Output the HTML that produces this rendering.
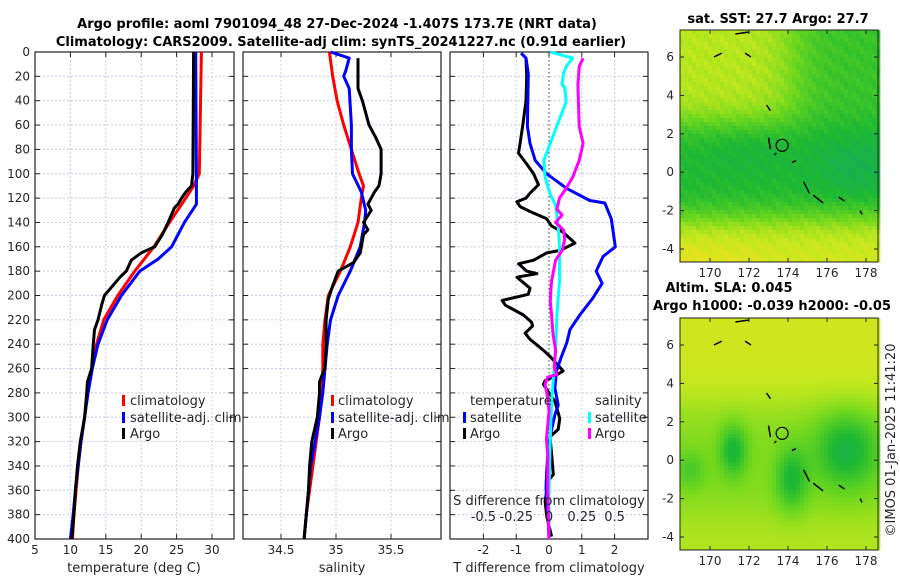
<!DOCTYPE html>
<html><head><meta charset="utf-8"><style>
body{margin:0;background:#fff;}
svg{display:block;font-family:"DejaVu Sans","Liberation Sans",sans-serif;}
.t{font-weight:bold;font-size:13px;fill:#000;}
.tk{font-size:12px;fill:#262626;}
.lb{font-size:13px;fill:#262626;}
</style></head><body>
<svg id="fig" width="900" height="580" viewBox="0 0 900 580">
<text class="t" x="337" y="28" text-anchor="middle">Argo profile: aoml 7901094_48 27-Dec-2024 -1.407S 173.7E (NRT data)</text>
<text class="t" x="341" y="46" text-anchor="middle">Climatology: CARS2009. Satellite-adj clim: synTS_20241227.nc (0.91d earlier)</text>
<text class="t" x="778" y="23" text-anchor="middle">sat. SST: 27.7 Argo: 27.7</text>
<text class="t" x="729" y="292" text-anchor="middle">Altim. SLA: 0.045</text>
<text class="t" x="772" y="310" text-anchor="middle">Argo h1000: -0.039 h2000: -0.05</text>
<text class="lb" transform="translate(895,440) rotate(-90)" text-anchor="middle">©IMOS 01-Jan-2025 11:41:20</text>
</svg>
<script>
// ---- data (depth in m) ----
const depthTicks=[0,20,40,60,80,100,120,140,160,180,200,220,240,260,280,300,320,340,360,380,400];
const tempTicks=[5,10,15,20,25,30];
const salTicks=[34.5,35,35.5];
const tdiffTicks=[-2,-1,0,1,2];
const sdiffTicks=[-0.5,-0.25,0,0.25,0.5];
const sdiffLabels=["-0.5","-0.25","0","0.25","0.5"];
const lonTicks=[170,172,174,176,178];
const latTicks=[6,4,2,0,-2,-4];

const tClimD=[0,100,110,120,140,160,180,200,220,240,260,280,300,320,340,360,380,400];
const tClimV=[28.5,28.2,27.4,26.3,24.0,21.8,19.1,16.7,14.7,13.7,13.0,12.4,12.0,11.5,11.1,10.8,10.5,10.3];
const tSatD=[0,100,125,140,160,170,180,200,220,240,260,280,300,320,340,360,380,400];
const tSatV=[27.7,27.8,27.8,26.1,24.3,22.4,19.8,17.2,15.2,13.9,13.1,12.5,12.0,11.5,11.1,10.7,10.4,10.0];
const tArgoD=[0,100,110,115,120,125,128,140,150,160,165,171,180,185,200,208,220,228,242,260,271,280,300,320,340,360,380,400];
const tArgoV=[27.4,27.3,27.1,26.3,25.7,25.2,24.7,23.8,23.0,21.9,20.0,18.6,17.9,17.0,14.8,14.4,13.9,13.4,13.2,13.0,12.4,12.3,12.0,11.4,11.0,10.7,10.5,10.2];

const sClimD=[0,20,40,60,80,100,110,120,140,160,180,200,220,240,260,280,300,320,340,360,380,400];
const sClimV=[34.94,34.97,35.01,35.07,35.14,35.21,35.25,35.23,35.2,35.13,35.04,34.93,34.9,34.88,34.88,34.87,34.85,34.82,34.79,34.76,34.73,34.71];
const sSatD=[0,5,15,20,30,60,80,100,115,130,140,160,180,200,220,240,260,280,300,320,340,360,380,400];
const sSatV=[34.95,35.12,35.09,35.07,35.12,35.14,35.14,35.15,35.23,35.27,35.26,35.22,35.13,35.02,34.95,34.92,34.9,34.88,34.85,34.81,34.77,34.75,34.73,34.71];
const sArgoD=[5,30,40,60,70,80,100,110,115,125,130,140,146,150,165,173,180,192,203,220,240,260,266,271,280,300,320,340,360,380,400];
const sArgoV=[35.2,35.2,35.24,35.3,35.36,35.41,35.41,35.39,35.35,35.29,35.32,35.25,35.29,35.25,35.22,35.16,35.02,34.97,34.93,34.91,34.91,34.9,34.87,34.85,34.85,34.83,34.78,34.76,34.75,34.73,34.71];

const dTSatD=[1,5,18,61,75,89,100,112,122,124,137,160,168,180,190,202,216,228,239,250,262,276,290,298,310,324,344,358,386,400];
const dTSatV=[-0.85,-0.7,-0.63,-0.66,-0.58,-0.42,-0.07,0.54,1.24,1.7,1.9,2.02,1.65,1.44,1.62,1.34,0.94,0.64,0.54,0.38,0.23,0.18,0.28,0.18,0.08,-0.02,-0.07,-0.09,-0.02,0];
const dTArgoD=[5,20,40,60,75,83,92,100,109,116,120,123,127,131,137,143,148,157,163,165,171,174,180,182,185,194,199,204,208,216,222,225,231,236,245,250,259,262,266,270,273,279,287,301,310,316,330,347,352,369,381,398];
const dTArgoV=[-0.7,-0.68,-0.7,-0.8,-0.88,-0.93,-0.68,-0.47,-0.32,-0.58,-0.7,-0.98,-0.88,-0.58,-0.07,0.08,0.43,0.79,0.33,-0.07,-0.47,-0.93,-0.68,-0.37,-0.98,-0.58,-0.63,-1.43,-1.33,-0.78,-0.53,-0.5,-0.73,-0.58,-0.17,0.03,0.33,0.43,0.18,-0.12,-0.17,-0.02,0.18,0.33,0.28,0.03,0.08,0.13,-0.02,-0.12,-0.07,0.08];
const dSSatD=[0,5,12,18,27,29,41,58,75,89,103,117,126,143,160,188,216,245,273,287,316,360,400];
const dSSatV=[0.01,0.18,0.13,0.11,0.1,0.12,0.13,0.07,0.01,-0.04,-0.03,0.01,0.05,0.07,0.08,0.08,0.06,0.05,0.03,0.02,0.01,0.0,0.0];
const dSArgoD=[5,12,27,61,75,89,103,112,120,129,134,140,146,154,163,171,177,188,194,205,216,231,245,259,265,267,273,284,295,307,318,330,360,400];
const dSArgoV=[0.26,0.23,0.22,0.23,0.26,0.23,0.18,0.13,0.08,0.06,0.1,0.05,0.11,0.12,0.1,0.05,0.04,0.02,0.015,0.01,0.02,0.03,0.05,0.04,0.06,-0.01,-0.03,-0.01,0.0,-0.01,-0.02,-0.01,-0.01,0.0];

// ---- scales ----
const Y0=52, Y1=539;
const yD=d=>Y0+d*(Y1-Y0)/400;
const xT=v=>35+(v-5)*7.08;
const xS=v=>281+(v-34.5)*110;
const xDT=v=>549+v*32.8;
const xDS=v=>xDT(v*4);
const NS='http://www.w3.org/2000/svg';
const svg=document.getElementById('fig');
function mk(tag,attrs,parent){const e=document.createElementNS(NS,tag);for(const k in attrs)e.setAttribute(k,attrs[k]);(parent||svg).appendChild(e);return e;}

function panel(x0,x1,xs,ticks,labels,name,showY){
  const g=mk('g',{});
  
  
  depthTicks.forEach(d=>{const l=mk('line',{x1:x0,x2:x1,y1:yD(d),y2:yD(d),stroke:'#c4cce8','stroke-width':1,'stroke-dasharray':'2,2'},g);
    
    
    mk('line',{x1:x0,x2:x0+5,y1:yD(d),y2:yD(d),stroke:'#222'},g);mk('line',{x1:x1-5,x2:x1,y1:yD(d),y2:yD(d),stroke:'#222'},g);
    if(showY){const t=mk('text',{x:x0-5,y:yD(d)+4,'text-anchor':'end',class:'tk'},g);t.textContent=d;
      
      }
  });
  ticks.forEach((v,i)=>{const x=xs(v);const l=mk('line',{x1:x,x2:x,y1:Y0,y2:Y1,stroke:'#c4cce8','stroke-dasharray':'2,2'},g);
    
    
    if(x>x0+1&&x<x1-1){mk('line',{x1:x,x2:x,y1:Y1-5,y2:Y1,stroke:'#222'},g);mk('line',{x1:x,x2:x,y1:Y0,y2:Y0+5,stroke:'#222'},g);}
    const t=mk('text',{x:x,y:Y1+15,'text-anchor':'middle',class:'tk'},g);t.textContent=labels[i];
    
    
  });
  const r=mk('rect',{x:x0,y:Y0,width:x1-x0,height:Y1-Y0,fill:'none',stroke:'#222','stroke-width':1.2},g);
  
  
  return g;
}
function line(ds,vs,xs,col,name,sw){
  const p=mk('polyline',{points:ds.map((d,i)=>xs(vs[i]).toFixed(1)+','+yD(d).toFixed(1)).join(' '),fill:'none',stroke:col,'stroke-width':sw||3,'stroke-linejoin':'round'});
  
  
}
function txt(x,y,s,name,cls,anchor){const t=mk('text',{x:x,y:y,class:cls||'lb','text-anchor':anchor||'start'});t.textContent=s;
  
  return t;}
function legBar(x,y,col,name){const r=mk('rect',{x:x,y:y-10,width:3,height:11,fill:col});
  
  }

panel(35,234,xT,tempTicks,tempTicks,'temperature-panel',true);
panel(243,441,xS,salTicks,salTicks,'salinity-panel',false);
panel(450,648,xDT,tdiffTicks,tdiffTicks,'difference-panel',false);
const zl=mk('line',{x1:549,x2:549,y1:Y0,y2:Y1,stroke:'#444','stroke-dasharray':'1.5,2.5'});



line(tClimD,tClimV,xT,'#ff0000','temp-climatology-line');
line(tSatD,tSatV,xT,'#0000ff','temp-satellite-line');
line(tArgoD,tArgoV,xT,'#000','temp-argo-line');
line(sClimD,sClimV,xS,'#ff0000','sal-climatology-line');
line(sSatD,sSatV,xS,'#0000ff','sal-satellite-line');
line(sArgoD,sArgoV,xS,'#000','sal-argo-line');
line(dTArgoD,dTArgoV,xDT,'#000','tdiff-argo-line');
line(dTSatD,dTSatV,xDT,'#0000ff','tdiff-satellite-line');
line(dSSatD,dSSatV,xDS,'#00ffff','sdiff-satellite-line');
line(dSArgoD,dSArgoV,xDS,'#ff00ff','sdiff-argo-line');

// legends
legBar(122,405,'#ff0000','legend-climatology-swatch');txt(130,405,'climatology','legend-climatology');
legBar(122,422,'#0000ff','legend-satellite-swatch');txt(130,422,'satellite-adj. clim','legend-satellite');
legBar(122,438,'#000','legend-argo-swatch');txt(130,438,'Argo','legend-argo');
legBar(331,405,'#ff0000','legend2-climatology-swatch');txt(338,405,'climatology','legend2-climatology');
legBar(331,422,'#0000ff','legend2-satellite-swatch');txt(338,422,'satellite-adj. clim','legend2-satellite');
legBar(331,438,'#000','legend2-argo-swatch');txt(338,438,'Argo','legend2-argo');
txt(470,405,'temperature','legend3-temperature-header');
legBar(463,422,'#0000ff','legend3-tsat-swatch');txt(470,422,'satellite','legend3-tsat');
legBar(463,438,'#000','legend3-targo-swatch');txt(470,438,'Argo','legend3-targo');
txt(595,405,'salinity','legend3-salinity-header');
legBar(588,422,'#00ffff','legend3-ssat-swatch');txt(595,422,'satellite','legend3-ssat');
legBar(588,438,'#ff00ff','legend3-sargo-swatch');txt(595,438,'Argo','legend3-sargo');
txt(549,505,'S difference from climatology','s-axis-title','lb','middle');
sdiffTicks.forEach((v,i)=>txt(xDS(v),521,sdiffLabels[i],'s-tick-label','lb','middle'));
txt(134,572,'temperature (deg C)','temp-axis-title','lb','middle');
txt(342,572,'salinity','sal-axis-title','lb','middle');
txt(549,572,'T difference from climatology','tdiff-axis-title','lb','middle');

// ---- maps ----
const MX0=680,MX1=878;
const lonX=l=>710+(l-170)*19.5;
function stops(v){const c=[[0,[16,168,110]],[0.3,[30,185,50]],[0.6,[110,215,30]],[0.85,[195,232,30]],[1,[232,226,30]]];
  v=Math.max(0,Math.min(1,v));for(let i=1;i<c.length;i++){if(v<=c[i][0]){const a=c[i-1],b=c[i],f=(v-a[0])/(b[0]-a[0]);return 'rgb('+a[1].map((x,j)=>Math.round(x+(b[1][j]-x)*f)).join(',')+')';}}}
const gau=(x,y,cx,cy,rx,ry)=>Math.exp(-(((x-cx)/rx)**2+((y-cy)/ry)**2));
const sig=z=>1/(1+Math.exp(-z));
function sstField(lon,lat){
  let v=0.3;
  v+=0.42*sig((lat-2.6)/0.5)*sig((174.3-lon)/0.7);
  v+=0.1*sig((lat-2.6)/0.5);
  v+=0.6*sig((-2.4-lat)/0.5)+0.1*sig((-3.8-lat)/0.4)*sig((172-lon)/1);
  v-=0.14*gau(lon,lat,177.5,0.3,2.2,1.6)+0.06*gau(lon,lat,172,1,2,1.2);
  v+=0.05*Math.sin(lon*37.1+lat*53.7)*Math.cos(lon*11.3-lat*29.9);
  return v;}
function slaField(lon,lat){
  let v=0.66+0.24*sig((lat-3)/0.7)+0.14*sig((-2.8-lat)/0.6);
  v-=0.42*gau(lon,lat,171.2,0.5,0.7,1.3)+0.45*gau(lon,lat,177,0.5,1.6,1.9)+0.4*gau(lon,lat,174.2,-1,0.8,1.6)+0.2*gau(lon,lat,169,-0.5,0.8,1);
  return v;}
function map(top,bot,field,name){
  const latY=l=>top+27+(6-l)*(bot-top-40)/10;
  const g=mk('g',{});
  
  
  const cw=4,ch=4;
  for(let x=MX0;x<MX1;x+=cw)for(let y=top;y<bot;y+=ch){
    const lon=170+(x+cw/2-710)/19.5, lat=6-(y+ch/2-top-27)*10/(bot-top-40);
    mk('rect',{x:x,y:y,width:cw+0.3,height:ch+0.3,fill:stops(field(lon,lat))},g);}
  const coast=[[173,1.8,173.1,1.2],[174.2,0.5,174.4,0.6],[174.8,-0.5,175.1,-1.1],[175.3,-1.2,175.8,-1.6],[176.6,-1.3,176.9,-1.5],[177.7,-2.0,177.8,-2.2],[172.9,3.5,173.1,3.2],[170.2,6.0,170.6,6.2],[171.3,7.2,172,7.3],[171.8,6.2,172.1,6.0],[173.3,0.9,173.4,1.0]];
  coast.forEach(c=>{const p=mk('path',{d:'M'+lonX(c[0])+','+latY(c[1])+' L'+lonX(c[2])+','+latY(c[3]),stroke:'#000','stroke-width':1.5,fill:'none'},g);
    
    });
  const ci=mk('circle',{cx:lonX(173.7),cy:latY(1.4),r:6,fill:'none',stroke:'#000','stroke-width':1.2},g);
  
  
  const fr=mk('rect',{x:MX0,y:top,width:MX1-MX0,height:bot-top,fill:'none',stroke:'#222'},g);
  
  
  lonTicks.forEach(l=>{const x=lonX(l);mk('line',{x1:x,x2:x,y1:bot-4,y2:bot,stroke:'#222'},g);mk('line',{x1:x,x2:x,y1:top,y2:top+4,stroke:'#222'},g);
    const t=mk('text',{x:x,y:bot+15,'text-anchor':'middle',class:'tk'},g);t.textContent=l;
    
    });
  latTicks.forEach(l=>{const y=latY(l);mk('line',{x1:MX0,x2:MX0+4,y1:y,y2:y,stroke:'#222'},g);mk('line',{x1:MX1-4,x2:MX1,y1:y,y2:y,stroke:'#222'},g);
    const t=mk('text',{x:MX0-6,y:y+4,'text-anchor':'end',class:'tk'},g);t.textContent=l;
    
    });
}
map(30,262,sstField,'sst-map');
map(318,550,slaField,'sla-map');
</script>
</body></html>
